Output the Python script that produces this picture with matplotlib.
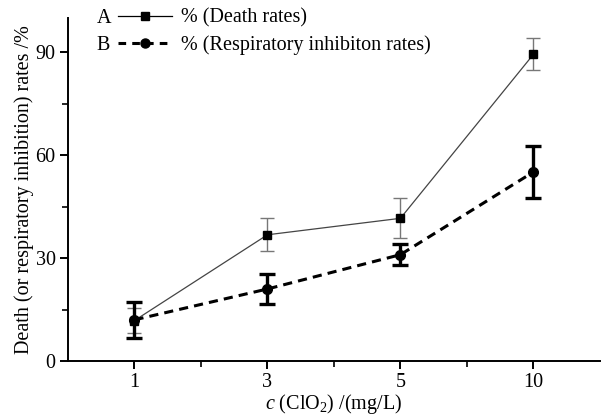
import numpy as np
import matplotlib
matplotlib.use("Agg")
import matplotlib.pyplot as plt
from matplotlib.ticker import MultipleLocator
from matplotlib.lines import Line2D

plt.rcParams['font.family'] = ['Liberation Serif', 'DejaVu Serif']
plt.rcParams['mathtext.fontset'] = 'custom'
plt.rcParams['mathtext.rm'] = 'Liberation Serif'
plt.rcParams['mathtext.it'] = 'Liberation Serif:italic'

# data
conc_labels = ['1', '3', '5', '10']
death_rate = [11.8, 36.8, 41.6, 89.4]
death_err = [3.7, 4.8, 5.8, 4.7]
resp_rate = [12.0, 21.0, 31.0, 55.1]
resp_err = [5.3, 4.3, 3.0, 7.7]

x = np.arange(len(conc_labels))
fs = 14.5

fig = plt.figure(figsize=(6.03, 4.17), dpi=100)
ax = fig.add_axes([0.1128, 0.1343, 0.882, 0.8225])

ax.errorbar(x, death_rate, yerr=death_err, color='#444444', lw=0.9,
            marker='s', ms=5.5, mfc='black', mec='black',
            ecolor='#777777', elinewidth=1.0, capsize=5, capthick=1.0)
ax.errorbar(x, resp_rate, yerr=resp_err, color='black', lw=2.2, ls=(0, (3, 2)),
            marker='o', ms=7, mfc='black', mec='black',
            ecolor='black', elinewidth=2.4, capsize=6, capthick=2.4)

ax.set_xlim(-0.5, 3.5)
ax.set_ylim(0, 100)
ax.set_xticks(x)
ax.set_xticklabels(conc_labels)
ax.set_xticks([0.5, 1.5, 2.5], minor=True)
ax.set_yticks([0, 30, 60, 90])
ax.yaxis.set_minor_locator(MultipleLocator(15))

for s in ['top', 'right']:
    ax.spines[s].set_visible(False)
for s in ['left', 'bottom']:
    ax.spines[s].set_linewidth(1.4)
ax.tick_params(which='major', direction='out', length=6, width=1.4, labelsize=fs, pad=3)
ax.tick_params(which='minor', direction='out', length=4, width=1.2)

ax.set_ylabel('Death (or respiratory inhibition) rates /%', fontsize=fs, labelpad=1)
ax.set_xlabel(r'$\mathit{c}$ (ClO$_2$) /(mg/L)', fontsize=fs, labelpad=0)

hA = Line2D([], [], color='black', lw=0.9, marker='s', ms=5.5)
hB = Line2D([], [], color='black', lw=2.2, ls=(0, (2.5, 2)), marker='o', ms=6.5)
ax.legend([hA, hB], ['% (Death rates)', '% (Respiratory inhibiton rates)'],
          loc='upper left', bbox_to_anchor=(0.079, 1.051), frameon=False,
          fontsize=fs, handlelength=2.7, handletextpad=0.4, labelspacing=0.35,
          borderaxespad=0)
fig.text(0.160, 0.955, 'A', fontsize=fs, ha='left', va='center')
fig.text(0.160, 0.890, 'B', fontsize=fs, ha='left', va='center')

fig.savefig('out.png', dpi=100)
